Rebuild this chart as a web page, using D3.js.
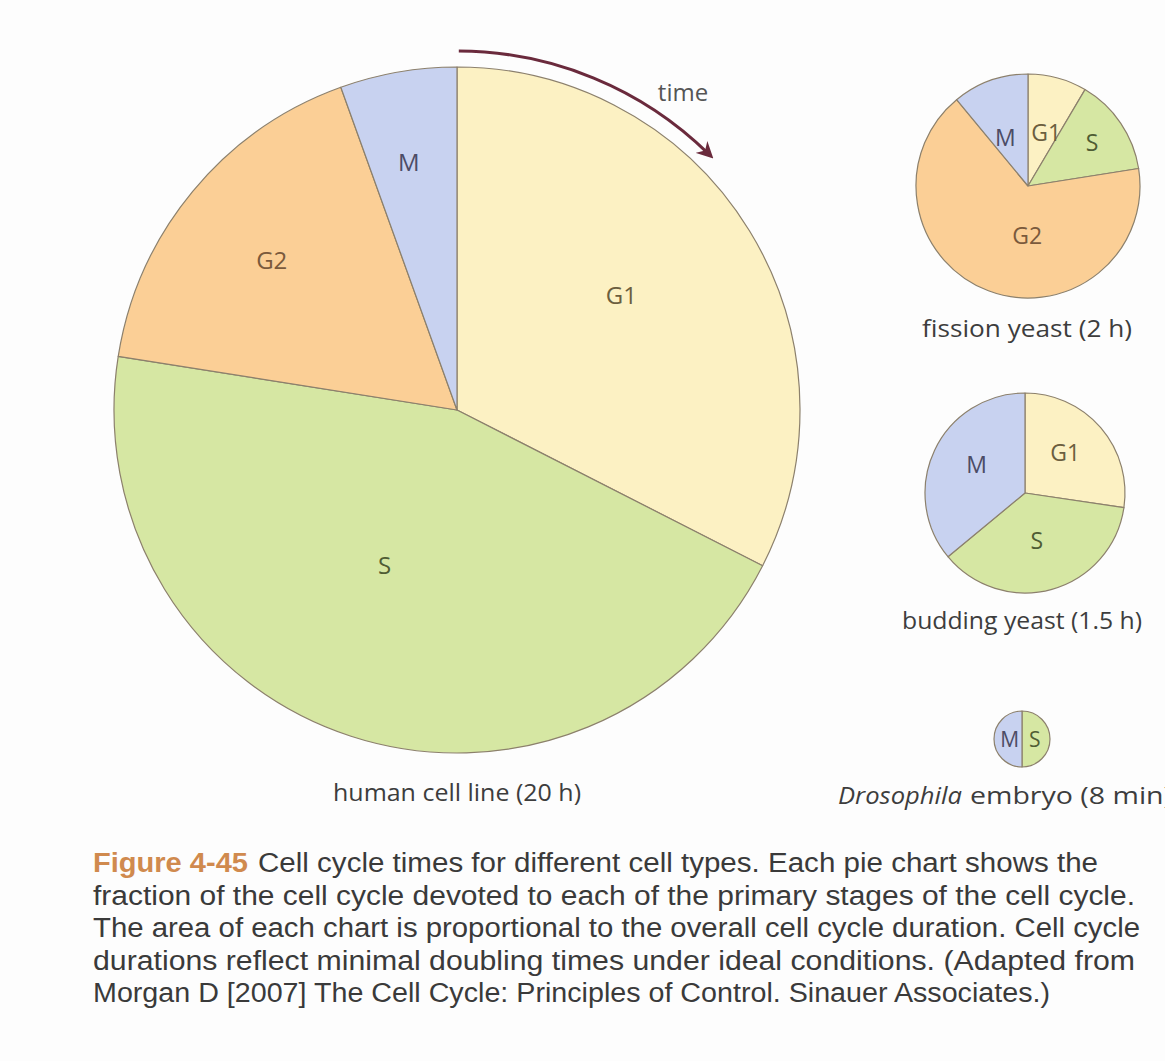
<!DOCTYPE html>
<html>
<head>
<meta charset="utf-8">
<script src="https://cdn.jsdelivr.net/npm/d3@7"></script>
<style>
  html, body { margin: 0; padding: 0; background: #fdfdfd; }
  svg { display: block; }
</style>
</head>
<body>
<div id="chart"></div>
<script>
// phases in clockwise order from 12 o'clock
var phases = ["G1", "S", "G2", "M"];

// durations (hours)
var humanHours = [6.5, 9.0, 3.4, 1.1];
var fissionHours = [0.17, 0.28, 1.33, 0.22];
var buddingHours = [0.41, 0.55, 0, 0.54];
var drosophilaHours = [0, 4 / 60, 0, 4 / 60];

var pieNames = ["human cell line (20 h)", "fission yeast (2 h)", "budding yeast (1.5 h)", "embryo (8 min)"];

var captionLines = [
  "Cell cycle times for different cell types. Each pie chart shows the",
  "fraction of the cell cycle devoted to each of the primary stages of the cell cycle.",
  "The area of each chart is proportional to the overall cell cycle duration. Cell cycle",
  "durations reflect minimal doubling times under ideal conditions. (Adapted from",
  "Morgan D [2007] The Cell Cycle: Principles of Control. Sinauer Associates.)"
];

var phaseColor = d3.scaleOrdinal()
  .domain(phases)
  .range(["#fcf1c3", "#d6e7a3", "#fbcf96", "#c8d2f0"]);
var labelColor = d3.scaleOrdinal()
  .domain(phases)
  .range(["#6b5e3e", "#4f5c34", "#7a5a3c", "#4c4c66"]);

var width = 1165, height = 1061;

// layout: centre, radius, and label polar spots [angle deg, radius fraction]
var panels = [
  { values: humanHours, cx: 457, cy: 410, r: 343, fs: 24,
    labels: { G1: [55, 0.585], S: [205, 0.5], G2: [309, 0.695], M: [349, 0.735] },
    name: pieNames[0], nx: 457, ny: 801, anchor: "middle", w: 248 },
  { values: fissionHours, cx: 1028, cy: 186, r: 112, fs: 23,
    labels: { G1: [19, 0.5], S: [56, 0.69], G2: [181, 0.44], M: [335, 0.48] },
    name: pieNames[1], nx: 1027, ny: 337, anchor: "middle", w: 210 },
  { values: buddingHours, cx: 1025, cy: 493, r: 100, fs: 23,
    labels: { G1: [45, 0.57], S: [166, 0.49], M: [300, 0.56] },
    name: pieNames[2], nx: 1022, ny: 629, anchor: "middle", w: 240 },
  { values: drosophilaHours, cx: 1022, cy: 739, r: 28, fs: 21,
    labels: { S: [90, 0.46], M: [270, 0.44] },
    name: pieNames[3], nx: 970, ny: 804, anchor: "start", w: 202,
    italic: "Drosophila", ix: 838, iw: 124 }
];

var svg = d3.select("#chart")
  .append("svg")
    .attr("width", width)
    .attr("height", height);

var pie = d3.pie().sort(null).value(function(d) { return d.value; });
var labelFont = "'Open Sans', 'Noto Sans', sans-serif";

panels.forEach(function(p) {
  var data = phases.map(function(ph, i) { return { phase: ph, value: p.values[i] }; });
  var arcs = pie(data).filter(function(d) { return d.data.value > 0; });
  var arc = d3.arc().innerRadius(0).outerRadius(p.r);

  var g = svg.append("g").attr("transform", "translate(" + p.cx + "," + p.cy + ")");

  g.selectAll("path")
    .data(arcs)
    .enter()
    .append("path")
      .attr("d", arc)
      .attr("fill", function(d) { return phaseColor(d.data.phase); })
      .attr("stroke", "#8c806c")
      .attr("stroke-width", 1.2)
      .attr("stroke-linejoin", "round");

  g.selectAll("text.lbl")
    .data(arcs)
    .enter()
    .append("text")
      .attr("class", "lbl")
      .attr("x", function(d) {
        var s = p.labels[d.data.phase];
        return Math.sin(s[0] * Math.PI / 180) * s[1] * p.r;
      })
      .attr("y", function(d) {
        var s = p.labels[d.data.phase];
        return -Math.cos(s[0] * Math.PI / 180) * s[1] * p.r;
      })
      .attr("dy", "0.36em")
      .attr("text-anchor", "middle")
      .attr("font-family", labelFont)
      .attr("font-size", p.fs)
      .attr("fill", function(d) { return labelColor(d.data.phase); })
      .text(function(d) { return d.data.phase; });

  if (p.italic) {
    svg.append("text")
      .attr("x", p.ix)
      .attr("y", p.ny)
      .attr("font-family", labelFont)
      .attr("font-size", 24)
      .attr("font-style", "italic")
      .attr("fill", "#3d3d3d")
      .attr("textLength", p.iw)
      .attr("lengthAdjust", "spacingAndGlyphs")
      .text(p.italic);
  }
  svg.append("text")
    .attr("x", p.nx)
    .attr("y", p.ny)
    .attr("text-anchor", p.anchor)
    .attr("font-family", labelFont)
    .attr("font-size", 24)
    .attr("fill", "#3d3d3d")
    .attr("textLength", p.w)
    .attr("lengthAdjust", "spacingAndGlyphs")
    .text(p.name);
});

// "time" arrow, concentric with the big pie
var big = panels[0];
svg.append("defs").append("marker")
    .attr("id", "head")
    .attr("viewBox", "0 0 10 10")
    .attr("refX", 6)
    .attr("refY", 5)
    .attr("markerWidth", 5.5)
    .attr("markerHeight", 5.5)
    .attr("orient", "auto")
  .append("path")
    .attr("d", "M0,0 L10,5 L0,10 L3,5 Z")
    .attr("fill", "#6a2a3c");

svg.append("path")
  .attr("transform", "translate(" + big.cx + "," + big.cy + ")")
  .attr("d", d3.arc()({ innerRadius: 359, outerRadius: 359, startAngle: 0.005, endAngle: 44.5 * Math.PI / 180 })
    .split("A").slice(0, 2).join("A"))
  .attr("fill", "none")
  .attr("stroke", "#6a2a3c")
  .attr("stroke-width", 3)
  .attr("marker-end", "url(#head)");

svg.append("text")
  .attr("x", 683)
  .attr("y", 101)
  .attr("text-anchor", "middle")
  .attr("font-family", labelFont)
  .attr("font-size", 24)
  .attr("fill", "#555")
  .text("time");

// figure caption
var capFont = "'Liberation Sans', Arial, sans-serif";
var capEnds = [1098, 1135, 1140, 1135, 1050];
var capY = d3.scaleLinear().domain([0, 4]).range([872, 1002]);

svg.append("text")
  .attr("x", 93)
  .attr("y", capY(0))
  .attr("font-family", capFont)
  .attr("font-size", 27)
  .attr("font-weight", "bold")
  .attr("fill", "#d08a4e")
  .attr("textLength", 155)
  .attr("lengthAdjust", "spacingAndGlyphs")
  .text("Figure 4-45");

captionLines.forEach(function(line, i) {
  var x0 = i === 0 ? 258 : 93;
  svg.append("text")
    .attr("x", x0)
    .attr("y", capY(i))
    .attr("font-family", capFont)
    .attr("font-size", 27)
    .attr("fill", "#3a3a3a")
    .attr("textLength", capEnds[i] - x0)
    .attr("lengthAdjust", "spacingAndGlyphs")
    .text(line);
});
</script>
</body>
</html>
